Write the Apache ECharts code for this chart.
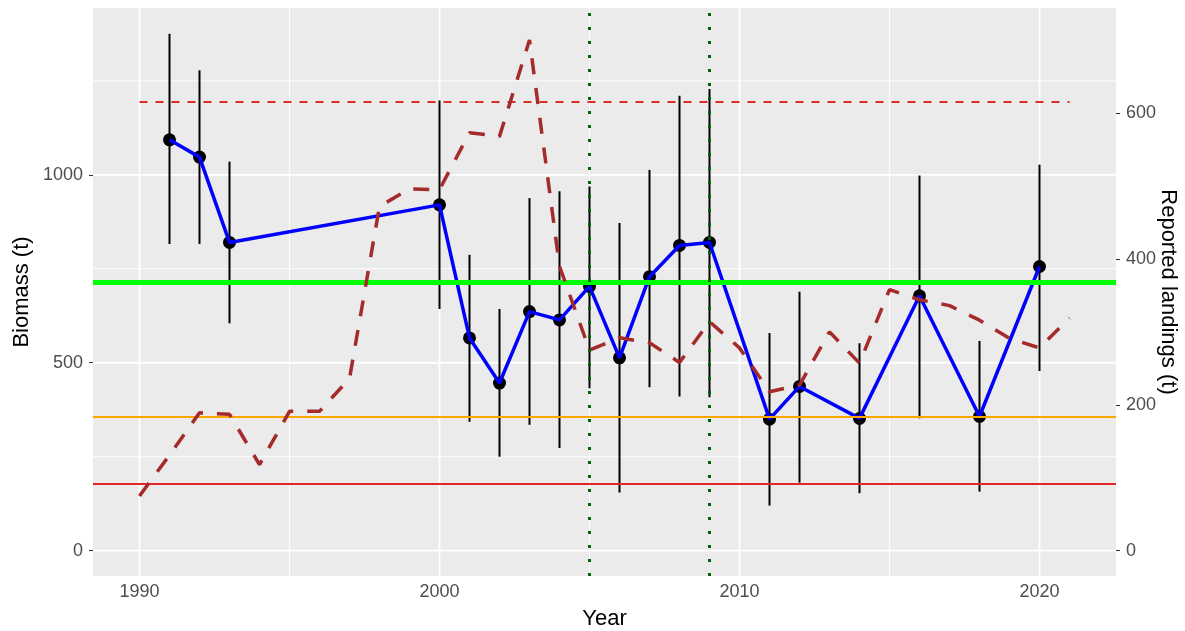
<!DOCTYPE html>
<html>
<head>
<meta charset="utf-8">
<script src="https://cdn.jsdelivr.net/npm/echarts@6.0.0/dist/echarts.min.js"></script>
<style>
html,body{margin:0;padding:0;background:#fff;}
#chart{width:1185px;height:631px;}
</style>
</head>
<body>
<div id="chart"></div>
<script>
// ---- data ----
var surveyYears = [1991,1992,1993,2000,2001,2002,2003,2004,2005,2006,2007,2008,2009,2011,2012,2014,2016,2018,2020];
var biomass     = [1093,1047,820,920,566,446,636,614,703,513,729,812,820,350,437,352,678,357,756];
var biomassLow  = [816,816,605,643,343,250,335,273,432,155,435,410,408,120,181,153,352,157,478];
var biomassHigh = [1375,1278,1035,1198,787,643,938,956,969,872,1013,1210,1228,579,689,552,998,558,1027];

var landingYears = [1990,1991,1992,1993,1994,1995,1996,1997,1998,1999,2000,2001,2002,2003,2004,2005,2006,2007,2008,2009,2010,2011,2012,2013,2014,2015,2016,2017,2018,2019,2020,2021];
var landings     = [75,131,189,187,118,191,191,236,472,496,495,573,568,700,390,275,292,285,258,314,278,218,227,300,257,358,344,336,316,291,278,319];

var xTicks = [1990,2000,2010,2020];
var xMinorGrid = [1995,2005,2015];
var yLeftTicks = [0,500,1000];
var yLeftMinorGrid = [250,750,1250];
var yRightTicks = [0,200,400,600];

var refGreen = 713;      // thick green
var refOrange = 356.5;   // orange
var refRed = 178.25;     // red solid
var refRedDashed = 1195; // red dashed (1990-2021)
var refRedDashedYears = [1990, 2021];
var periodMarks = [2005, 2009]; // dark green dotted verticals

// ---- build ----
var errData = surveyYears.map(function(y,i){ return [y, biomassLow[i], biomassHigh[i]]; });
var ptData = surveyYears.map(function(y,i){ return [y, biomass[i]]; });
var landData = landingYears.map(function(y,i){ return [y, landings[i]]; });

var vGrid = xTicks.map(function(v){ return [v, 1]; }).concat(xMinorGrid.map(function(v){ return [v, 0]; }));
var hGrid = yLeftTicks.map(function(v){ return [v, 1]; }).concat(yLeftMinorGrid.map(function(v){ return [v, 0]; }));

var font = 'Liberation Sans, Arial, sans-serif';
var tickStyle = {show:true, inside:false, length:4, lineStyle:{color:'#333333', width:1.1}};
var plain = function(v){ return String(v); };

var refLines = [
  {yAxis:refGreen, lineStyle:{color:'#00FF00', width:5, type:'solid'}},
  {yAxis:refOrange, lineStyle:{color:'#FFA500', width:1.8, type:'solid'}},
  {yAxis:refRed, lineStyle:{color:'#E0282A', width:1.8, type:'solid'}},
  [{coord:[refRedDashedYears[0], refRedDashed], lineStyle:{color:'#D7302B', width:2, type:[8,8]}},
   {coord:[refRedDashedYears[1], refRedDashed]}]
];
periodMarks.forEach(function(v){ refLines.push({xAxis:v, lineStyle:{color:'#006400', width:3, type:[3,11]}}); });

var chart = echarts.init(document.getElementById('chart'), null, {renderer:'canvas'});
chart.setOption({
  animation:false,
  backgroundColor:'#FFFFFF',
  textStyle:{fontFamily:font},
  grid:{left:93, top:8, right:69, bottom:55, containLabel:false, outerBoundsMode:'none',
        show:true, backgroundColor:'#EBEBEB', borderWidth:0},
  xAxis:{
    type:'value', min:1988.45, max:2022.55,
    axisLine:{show:false},
    axisTick:Object.assign({customValues:xTicks}, tickStyle),
    axisLabel:{customValues:xTicks, formatter:plain, color:'#4D4D4D', fontSize:18, margin:7, fontFamily:font},
    splitLine:{show:false}, minorSplitLine:{show:false},
    name:'Year', nameLocation:'middle', nameGap:32, nameMoveOverlap:false,
    nameTextStyle:{color:'#000000', fontSize:22, fontFamily:font}
  },
  yAxis:[{
    type:'value', position:'left', min:-67.3, max:1443.7,
    axisLine:{show:false},
    axisTick:Object.assign({customValues:yLeftTicks}, tickStyle),
    axisLabel:{customValues:yLeftTicks, formatter:plain, color:'#4D4D4D', fontSize:18, margin:10, fontFamily:font},
    splitLine:{show:false},
    name:'Biomass (t)', nameLocation:'middle', nameGap:60, nameRotate:90, nameMoveOverlap:false,
    nameTextStyle:{color:'#000000', fontSize:22, fontFamily:font}
  },{
    type:'value', position:'right', min:-34.7, max:744.0,
    axisLine:{show:false},
    axisTick:Object.assign({customValues:yRightTicks}, tickStyle),
    axisLabel:{customValues:yRightTicks, formatter:plain, color:'#4D4D4D', fontSize:18, margin:10, fontFamily:font},
    splitLine:{show:false},
    name:'Reported landings (t)', nameLocation:'middle', nameGap:41, nameRotate:-90, nameMoveOverlap:false,
    nameTextStyle:{color:'#000000', fontSize:22, fontFamily:font}
  }],
  series:[
    {name:'vgrid', type:'custom', z:1, silent:true, data:vGrid, encode:{x:0},
     renderItem:function(params, api){
       var cs = params.coordSys;
       var x = api.coord([api.value(0), 0])[0];
       return {type:'line', shape:{x1:x, y1:cs.y, x2:x, y2:cs.y+cs.height},
               style:{stroke:'#FFFFFF', lineWidth: api.value(1) ? 1.8 : 0.9}};
     }},
    {name:'hgrid', type:'custom', z:1, silent:true, data:hGrid, encode:{y:0},
     renderItem:function(params, api){
       var cs = params.coordSys;
       var y = api.coord([xTicks[0], api.value(0)])[1];
       return {type:'line', shape:{x1:cs.x, y1:y, x2:cs.x+cs.width, y2:y},
               style:{stroke:'#FFFFFF', lineWidth: api.value(1) ? 1.8 : 0.9}};
     }},
    {name:'ci', type:'custom', z:2, silent:true, data:errData,
     encode:{x:0, y:[1,2]},
     renderItem:function(params, api){
       var p1 = api.coord([api.value(0), api.value(1)]);
       var p2 = api.coord([api.value(0), api.value(2)]);
       return {type:'line', shape:{x1:p1[0], y1:p1[1], x2:p2[0], y2:p2[1]},
               style:{stroke:'#000000', lineWidth:2}};
     }},
    {name:'points', type:'scatter', z:3, data:ptData, symbol:'circle', symbolSize:13,
     itemStyle:{color:'#000000', opacity:1}},
    {name:'biomass', type:'line', z:4, data:ptData, showSymbol:false, symbol:'none',
     lineStyle:{color:'#0000FF', width:3.5}},
    {name:'landings', type:'line', z:5, yAxisIndex:1, data:landData, showSymbol:false, symbol:'none',
     lineStyle:{color:'#A52A2A', width:3.5, type:[16,14], cap:'butt'}},
    {name:'refs', type:'line', data:[], z:6, silent:true,
     markLine:{silent:true, symbol:['none','none'], label:{show:false}, animation:false, data:refLines}}
  ]
});
</script>
</body>
</html>
